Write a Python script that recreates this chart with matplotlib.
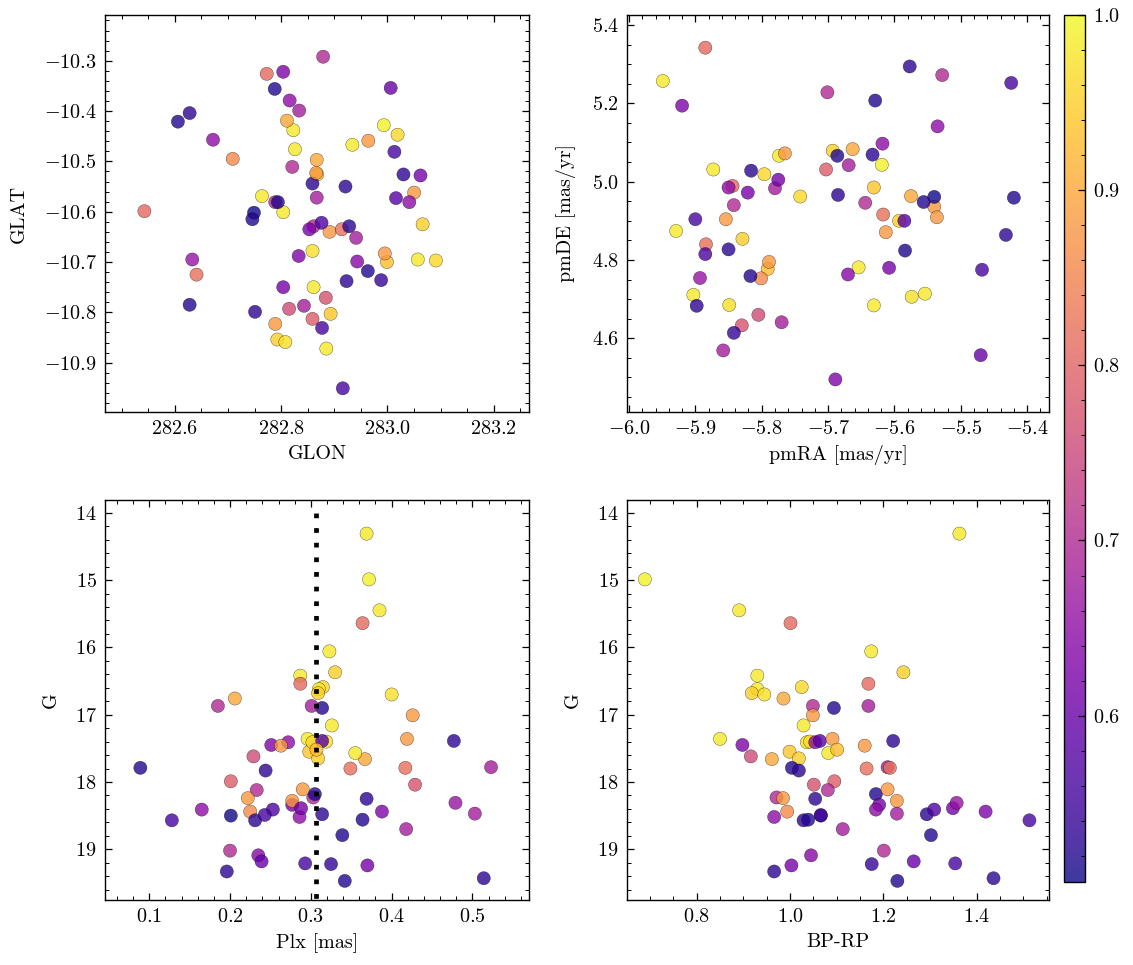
import numpy as np
import matplotlib
matplotlib.use('Agg')
import matplotlib.pyplot as plt
from matplotlib.ticker import MultipleLocator

# membership stars: position, proper motion, parallax, photometry, probability
glon = [282.823, 282.993, 282.934, 282.773, 282.826, 282.868, 282.764, 282.543, 283.091, 282.804,
        282.793, 282.859, 282.811, 282.879, 282.788, 282.834, 282.964, 283.057, 282.861, 282.804,
        282.815, 282.867, 282.893, 283.066, 283.019, 282.808, 282.816, 283.016, 283.050, 282.885,
        282.999, 282.891, 282.628, 282.606, 283.030, 282.914, 282.867, 282.641, 282.884, 282.859,
        282.789, 282.861, 282.995, 282.859, 282.709, 282.672, 282.921, 282.794, 282.749, 282.746,
        283.062, 283.041, 282.789, 282.866, 282.941, 282.843, 282.928, 282.876, 282.853, 282.633,
        282.833, 282.877, 282.963, 282.821, 282.943, 282.804, 282.923, 282.988, 283.006, 282.916,
        282.628, 282.751, 283.013]
glat = [-10.438, -10.428, -10.467, -10.326, -10.476, -10.526, -10.569, -10.599, -10.697, -10.601,
        -10.854, -10.678, -10.419, -10.292, -10.356, -10.399, -10.459, -10.695, -10.750, -10.322,
        -10.793, -10.497, -10.803, -10.625, -10.447, -10.859, -10.379, -10.573, -10.562, -10.872,
        -10.700, -10.640, -10.404, -10.421, -10.526, -10.635, -10.572, -10.725, -10.771, -10.813,
        -10.581, -10.629, -10.683, -10.544, -10.495, -10.457, -10.550, -10.581, -10.602, -10.615,
        -10.528, -10.581, -10.823, -10.523, -10.652, -10.787, -10.629, -10.622, -10.635, -10.695,
        -10.688, -10.831, -10.718, -10.511, -10.699, -10.750, -10.738, -10.736, -10.354, -10.951,
        -10.785, -10.799, -10.481]
pmra = [-5.949, -5.619, -5.774, -5.885, -5.873, -5.693, -5.929, -5.844, -5.742, -5.903,
        -5.829, -5.849, -5.663, -5.528, -5.629, -5.669, -5.765, -5.654, -5.631, -5.920,
        -5.805, -5.575, -5.631, -5.593, -5.796, -5.574, -5.535, -5.585, -5.540, -5.554,
        -5.791, -5.854, -5.577, -5.686, -5.633, -5.884, -5.780, -5.617, -5.830, -5.703,
        -5.842, -5.644, -5.789, -5.816, -5.801, -5.618, -5.685, -5.556, -5.540, -5.420,
        -5.775, -5.850, -5.613, -5.536, -5.770, -5.858, -5.850, -5.885, -5.821, -5.893,
        -5.689, -5.424, -5.817, -5.701, -5.670, -5.608, -5.898, -5.842, -5.470, -5.900,
        -5.584, -5.432, -5.468]
pmde = [5.257, 5.043, 5.066, 5.342, 5.031, 5.079, 4.874, 4.989, 4.962, 4.711,
        4.854, 4.685, 5.083, 5.272, 5.207, 5.042, 5.072, 4.781, 4.684, 5.194,
        4.660, 4.963, 4.985, 4.900, 5.019, 4.706, 5.141, 4.900, 4.936, 4.714,
        4.777, 4.904, 5.294, 5.066, 5.069, 4.840, 4.983, 4.916, 4.633, 5.031,
        4.940, 4.946, 4.795, 5.028, 4.753, 5.097, 4.966, 4.948, 4.961, 4.959,
        5.005, 4.985, 4.871, 4.909, 4.641, 4.569, 4.827, 4.815, 4.972, 4.754,
        4.495, 5.252, 4.759, 5.228, 4.763, 4.780, 4.683, 4.614, 4.557, 4.904,
        4.824, 4.864, 4.775]
plx = [0.369, 0.372, 0.385, 0.364, 0.323, 0.330, 0.287, 0.287, 0.315, 0.310,
       0.309, 0.400, 0.206, 0.185, 0.314, 0.301, 0.426, 0.326, 0.296, 0.251,
       0.229, 0.367, 0.298, 0.309, 0.302, 0.319, 0.272, 0.314, 0.419, 0.355,
       0.307, 0.263, 0.477, 0.089, 0.244, 0.349, 0.523, 0.417, 0.429, 0.201,
       0.233, 0.303, 0.222, 0.369, 0.225, 0.286, 0.231, 0.364, 0.201, 0.305,
       0.277, 0.165, 0.290, 0.277, 0.503, 0.418, 0.314, 0.253, 0.288, 0.479,
       0.388, 0.128, 0.339, 0.200, 0.235, 0.370, 0.196, 0.325, 0.239, 0.293,
       0.342, 0.514, 0.243]
gmag = [14.31, 14.99, 15.45, 15.64, 16.06, 16.37, 16.42, 16.54, 16.59, 16.62,
        16.68, 16.70, 16.76, 16.87, 16.90, 16.87, 17.01, 17.16, 17.36, 17.45,
        17.62, 17.66, 17.55, 17.65, 17.41, 17.40, 17.41, 17.39, 17.36, 17.57,
        17.52, 17.46, 17.39, 17.79, 17.83, 17.80, 17.78, 17.79, 18.04, 17.99,
        18.12, 18.23, 18.24, 18.25, 18.44, 18.52, 18.57, 18.56, 18.50, 18.18,
        18.34, 18.41, 18.11, 18.28, 18.47, 18.70, 18.48, 18.41, 18.39, 18.31,
        18.44, 18.57, 18.79, 19.02, 19.09, 19.24, 19.33, 19.22, 19.18, 19.21,
        19.47, 19.43, 18.49]
bprp = [1.363, 0.689, 0.891, 1.001, 1.174, 1.243, 0.930, 1.168, 1.025, 0.930,
        0.918, 0.945, 0.986, 1.049, 1.094, 1.168, 1.049, 1.029, 0.850, 0.898,
        0.916, 0.961, 0.999, 1.019, 1.036, 1.043, 1.054, 1.064, 1.091, 1.082,
        1.101, 1.160, 1.221, 1.004, 1.019, 1.164, 1.209, 1.214, 1.051, 1.095,
        1.081, 0.971, 0.985, 1.054, 0.994, 0.966, 1.029, 1.039, 1.066, 1.184,
        1.191, 1.184, 1.209, 1.229, 1.229, 1.113, 1.293, 1.309, 1.349, 1.357,
        1.419, 1.513, 1.302, 1.201, 1.045, 1.003, 0.966, 1.175, 1.265, 1.354,
        1.230, 1.436, 1.066]
prob = [0.98, 0.99, 0.98, 0.81, 0.98, 0.95, 0.98, 0.81, 0.96, 0.98,
        0.95, 0.97, 0.90, 0.70, 0.52, 0.68, 0.88, 0.98, 0.98, 0.63,
        0.76, 0.90, 0.94, 0.95, 0.96, 0.97, 0.65, 0.58, 0.88, 0.98,
        0.93, 0.88, 0.53, 0.52, 0.53, 0.82, 0.68, 0.82, 0.77, 0.79,
        0.70, 0.70, 0.88, 0.53, 0.86, 0.65, 0.53, 0.52, 0.51, 0.52,
        0.62, 0.65, 0.88, 0.88, 0.68, 0.68, 0.53, 0.57, 0.62, 0.66,
        0.63, 0.56, 0.52, 0.70, 0.64, 0.62, 0.53, 0.54, 0.60, 0.56,
        0.52, 0.53, 0.56]

# mean parallax line
plx_ref = 0.306
g_line = [14.0, 20.0]

plt.rcParams.update({
    'font.family': 'serif',
    'font.serif': ['cmr10'],
    'mathtext.fontset': 'cm',
    'axes.formatter.use_mathtext': True,
    'font.size': 14.5,
    'axes.linewidth': 1.0,
    'axes.labelpad': 5,
    'xtick.direction': 'in', 'ytick.direction': 'in',
    'xtick.top': True, 'ytick.right': True,
    'xtick.minor.visible': True, 'ytick.minor.visible': True,
    'xtick.major.size': 5, 'ytick.major.size': 5,
    'xtick.minor.size': 2.8, 'ytick.minor.size': 2.8,
    'xtick.major.width': 0.9, 'ytick.major.width': 0.9,
    'xtick.minor.width': 0.7, 'ytick.minor.width': 0.7,
    'xtick.major.pad': 6, 'ytick.major.pad': 6,
})

fig = plt.figure(figsize=(11.33, 9.65), dpi=100)
ax1 = fig.add_axes([0.0927, 0.5731, 0.3742, 0.4114])
ax2 = fig.add_axes([0.5534, 0.5731, 0.3725, 0.4114])
ax3 = fig.add_axes([0.0927, 0.0674, 0.3742, 0.4145])
ax4 = fig.add_axes([0.5534, 0.0674, 0.3725, 0.4145])
cax = fig.add_axes([0.9391, 0.0860, 0.0185, 0.8984])

kw = dict(c=prob, cmap='plasma', vmin=0.505, vmax=1.0, s=90, alpha=0.8,
          edgecolors='k', linewidths=0.25)

sc = ax1.scatter(glon, glat, **kw)
ax1.set_xlim(282.469, 283.266)
ax1.set_ylim(-10.998, -10.209)
ax1.xaxis.set_major_locator(MultipleLocator(0.2))
ax1.yaxis.set_major_locator(MultipleLocator(0.1))
ax1.set_xlabel('GLON')
ax1.set_ylabel('GLAT', labelpad=11)

ax2.scatter(pmra, pmde, **kw)
ax2.set_xlim(-6.003, -5.367)
ax2.set_ylim(4.412, 5.4255)
ax2.xaxis.set_major_locator(MultipleLocator(0.1))
ax2.yaxis.set_major_locator(MultipleLocator(0.2))
ax2.set_xlabel('pmRA [mas/yr]')
ax2.set_ylabel('pmDE [mas/yr]', labelpad=11)

ax3.scatter(plx, gmag, **kw)
ax3.plot([plx_ref, plx_ref], g_line, color='k', lw=3.4, ls=(0, (1, 2.1)))
ax3.set_xlim(0.0453, 0.570)
ax3.set_ylim(19.753, 13.81)
ax3.xaxis.set_major_locator(MultipleLocator(0.1))
ax3.yaxis.set_major_locator(MultipleLocator(1))
ax3.set_xlabel('Plx [mas]')
ax3.set_ylabel('G', labelpad=11)

ax4.scatter(bprp, gmag, **kw)
ax4.set_xlim(0.6507, 1.555)
ax4.set_ylim(19.753, 13.81)
ax4.xaxis.set_major_locator(MultipleLocator(0.2))
ax4.yaxis.set_major_locator(MultipleLocator(1))
ax4.set_xlabel('BP-RP')
ax4.set_ylabel('G', labelpad=11)

cb = fig.colorbar(sc, cax=cax)
cb.ax.yaxis.set_major_locator(MultipleLocator(0.1))
cb.ax.yaxis.set_minor_locator(MultipleLocator(0.02))
cb.ax.tick_params(which='both', direction='in')
cb.outline.set_linewidth(1.0)

fig.savefig('out.png', dpi=100)
